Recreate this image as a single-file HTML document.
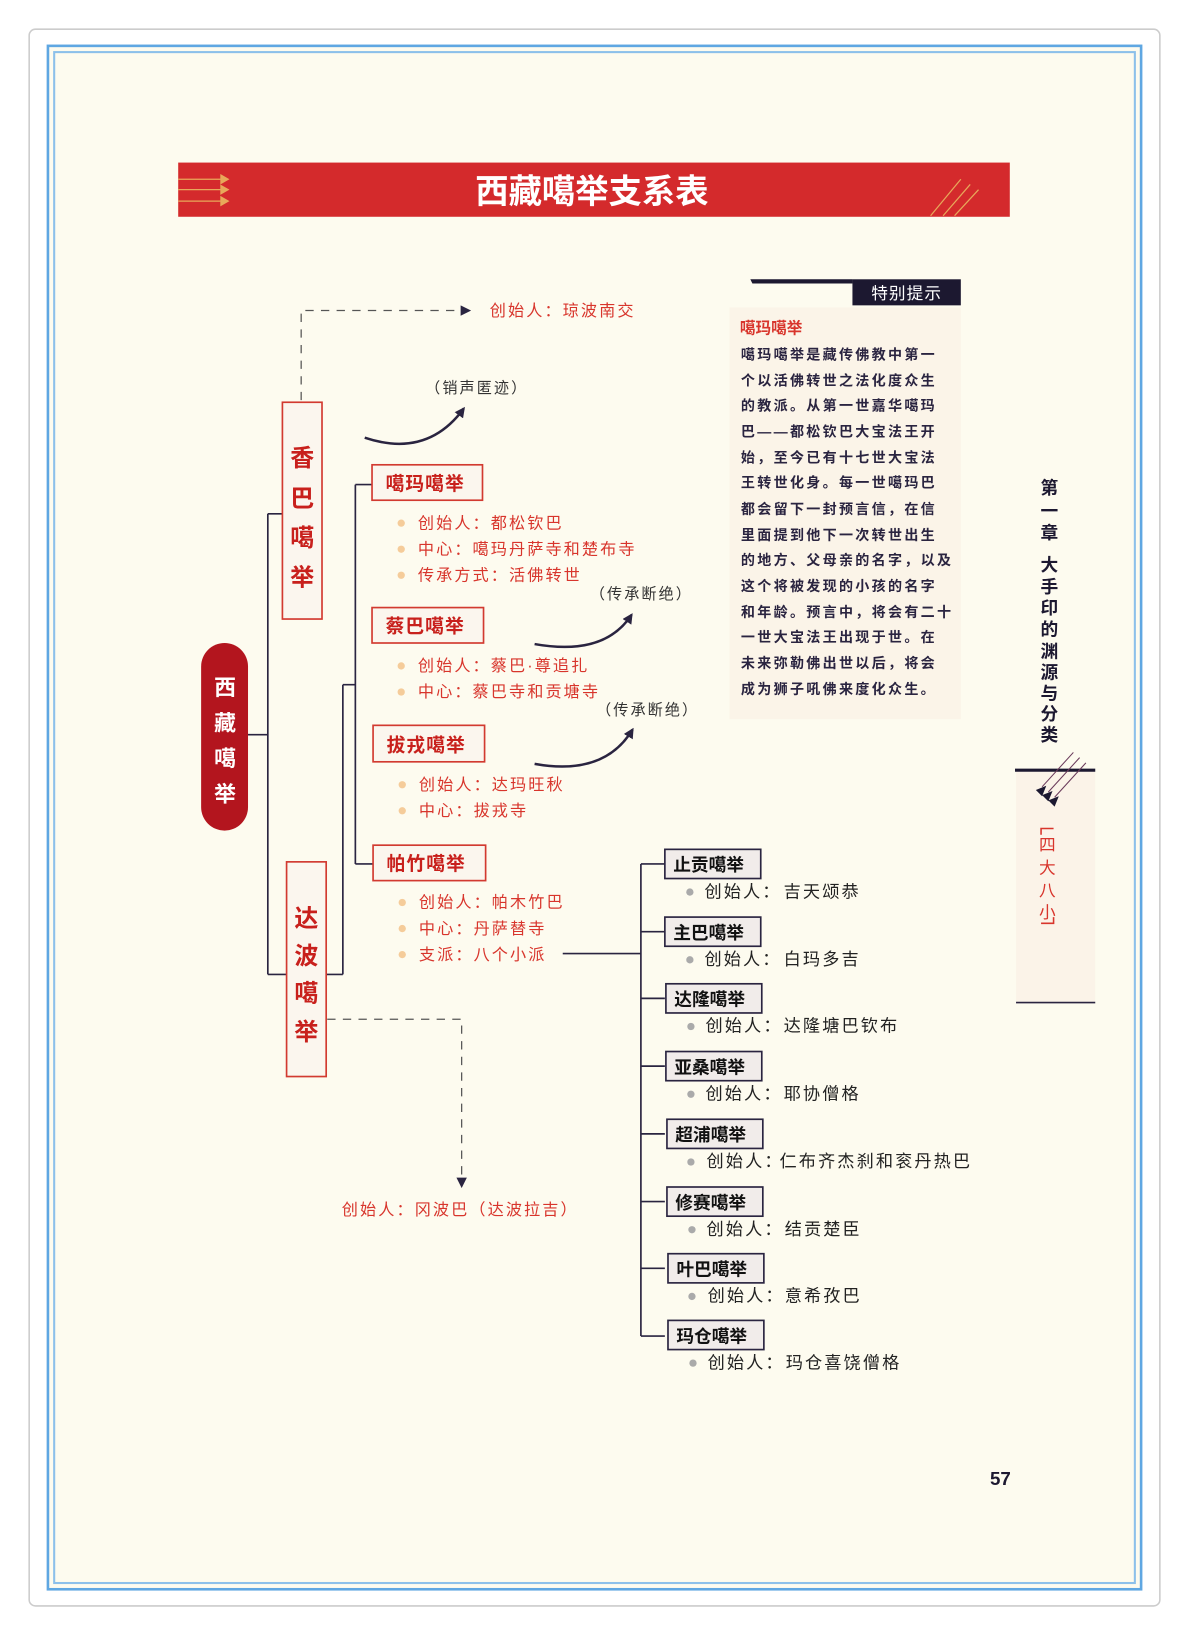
<!DOCTYPE html>
<html><head><meta charset="utf-8"><style>
html,body{margin:0;padding:0;background:#fff;}
svg{display:block;}
text{font-family:"Liberation Sans","Noto Sans CJK SC",sans-serif;}
.r{fill:#d8352c;font-size:15.5px;letter-spacing:2px;}
.bx{fill:#fbf6ee;stroke:#d23a30;stroke-width:1.6;}
.bt{fill:#c8201c;font-size:18px;font-weight:bold;letter-spacing:1px;}
.gb{fill:#f1ecea;stroke:#2a2440;stroke-width:1.6;}
.gt{fill:#111;font-size:17px;font-weight:bold;}
.ft{fill:#222;font-size:16.5px;letter-spacing:2px;}
.ln{stroke:#2a2440;stroke-width:1.6;fill:none;}
.tx{fill:#2a2440;font-size:13.5px;letter-spacing:2.2px;font-weight:bold;}
</style></head><body>
<svg width="1188" height="1632" viewBox="0 0 1140 1566" preserveAspectRatio="none">
<defs>
<marker id="ah" markerWidth="10" markerHeight="10" refX="8" refY="5" orient="auto" markerUnits="userSpaceOnUse"><path d="M0,0 L10,5 L0,10 z" fill="#2a2440"/></marker>
</defs>
<rect x="0" y="0" width="1140" height="1566" fill="#fff"/>
<rect x="28" y="28" width="1085" height="1513" rx="6" fill="#fff" stroke="#ccc" stroke-width="1.5"/>
<rect x="46" y="44" width="1049" height="1481" fill="#fdfbef" stroke="#5fa7e2" stroke-width="2.5"/>
<rect x="52" y="50" width="1037" height="1469" fill="none" stroke="#8cc0ea" stroke-width="2"/>

<!-- banner -->
<rect x="171" y="156" width="798" height="52" fill="#d42a2c"/>
<text x="568" y="195" text-anchor="middle" fill="#fff" font-size="32" font-weight="bold">西藏噶举支系表</text>
<g stroke="#e8a85a" stroke-width="1.2" fill="#e8a85a">
<line x1="171" y1="172" x2="215" y2="172"/><line x1="171" y1="182" x2="215" y2="182"/><line x1="171" y1="193" x2="215" y2="193"/>
<path d="M212,168 l7,4 l-7,4z M212,178 l7,4 l-7,4z M212,189 l7,4 l-7,4z"/>
<line x1="893" y1="207" x2="922" y2="172"/><line x1="905" y1="207" x2="931" y2="177"/><line x1="916" y1="207" x2="939" y2="182"/>
</g>

<!-- tip box -->
<rect x="700" y="295" width="222" height="395" fill="#faf1e6" opacity="0.7"/>
<path d="M720,268 L818,268 L818,272 L722,272z" fill="#1c1830"/>
<rect x="818" y="268" width="104" height="25" fill="#1c1830"/>
<text x="870" y="287" text-anchor="middle" fill="#fff" font-size="16" letter-spacing="1">特别提示</text>
<text x="710" y="320" fill="#d8352c" font-size="15" font-weight="bold">噶玛噶举</text>
<g class="tx">
<text x="711" y="345">噶玛噶举是藏传佛教中第一</text>
<text x="711" y="370">个以活佛转世之法化度众生</text>
<text x="711" y="394">的教派。从第一世嘉华噶玛</text>
<text x="711" y="419">巴——都松钦巴大宝法王开</text>
<text x="711" y="444">始，至今已有十七世大宝法</text>
<text x="711" y="468">王转世化身。每一世噶玛巴</text>
<text x="711" y="493">都会留下一封预言信，在信</text>
<text x="711" y="518">里面提到他下一次转世出生</text>
<text x="711" y="542">的地方、父母亲的名字，以及</text>
<text x="711" y="567">这个将被发现的小孩的名字</text>
<text x="711" y="592">和年龄。预言中，将会有二十</text>
<text x="711" y="616">一世大宝法王出现于世。在</text>
<text x="711" y="641">未来弥勒佛出世以后，将会</text>
<text x="711" y="666">成为狮子吼佛来度化众生。</text>
</g>

<!-- side chapter -->
<g fill="#1c1830" font-size="17" font-weight="bold" text-anchor="middle">
<text x="1007" y="474">第</text><text x="1007" y="496">一</text><text x="1007" y="517">章</text>
<text x="1007" y="548">大</text><text x="1007" y="569">手</text><text x="1007" y="589">印</text><text x="1007" y="610">的</text><text x="1007" y="631">渊</text><text x="1007" y="651">源</text><text x="1007" y="671">与</text><text x="1007" y="691">分</text><text x="1007" y="711">类</text>
</g>
<rect x="975" y="740" width="76" height="222" fill="#faf1e6" opacity="0.8"/>
<line x1="974" y1="739" x2="1051" y2="739" stroke="#1c1830" stroke-width="3"/>
<line x1="975" y1="962" x2="1051" y2="962" stroke="#2a2440" stroke-width="1.5"/>
<g stroke="#6a3a5a" stroke-width="1"><line x1="1030" y1="722" x2="1000" y2="755"/><line x1="1036" y1="727" x2="1006" y2="760"/><line x1="1042" y1="732" x2="1012" y2="765"/></g>
<path d="M994,758 l10,-4 l-4,10z M1000,763 l10,-4 l-4,10z M1006,768 l10,-4 l-4,10z" fill="#1c1830"/>
<path d="M999,801 V795 H1011 M999,886 H1011 V880" fill="none" stroke="#d8352c" stroke-width="1.5"/>
<g fill="#d8352c" font-size="16" text-anchor="middle">
<text x="1005" y="816">四</text><text x="1005" y="838">大</text><text x="1005" y="860">八</text><text x="1005" y="881">小</text>
</g>

<!-- tree lines -->
<path class="ln" d="M238,705 H257 M257,493 V935 M257,493 H271 M257,935 H275 M312,935 H329 M329,657 V935 M329,657 H341 M341,465 V829 M341,465 H357 M341,829 H358"/>
<path class="ln" d="M540,915 H615 M615,829 V1282 M615,829 H638 M615,894 H638 M615,958 H638 M615,1023 H638 M615,1088 H638 M615,1153 H638 M615,1217 H638 M615,1282 H638"/>

<!-- root pill -->
<rect x="193" y="617" width="45" height="180" rx="22.5" fill="#b3151e"/>
<g fill="#fff" font-size="21" font-weight="bold" text-anchor="middle">
<text x="216" y="667">西</text><text x="216" y="701">藏</text><text x="216" y="735">噶</text><text x="216" y="769">举</text>
</g>

<!-- 香巴 / 达波 -->
<rect class="bx" x="271" y="386" width="38" height="208"/>
<g fill="#c8201c" font-size="23" font-weight="bold" text-anchor="middle">
<text x="290" y="447">香</text><text x="290" y="486">巴</text><text x="290" y="524">噶</text><text x="290" y="562">举</text>
</g>
<rect class="bx" x="275" y="827" width="38" height="206"/>
<g fill="#c8201c" font-size="23" font-weight="bold" text-anchor="middle">
<text x="294" y="889">达</text><text x="294" y="925">波</text><text x="294" y="961">噶</text><text x="294" y="998">举</text>
</g>

<!-- dashed -->
<path d="M289,384 V298 H450" fill="none" stroke="#555" stroke-width="1.2" stroke-dasharray="8,7" marker-end="url(#ah)"/>
<text class="r" x="470" y="303">创始人：琼波南交</text>
<path d="M314,978 H443 V1138" fill="none" stroke="#555" stroke-width="1.2" stroke-dasharray="8,7" marker-end="url(#ah)"/>
<text class="r" x="328" y="1166">创始人：冈波巴（达波拉吉）</text>

<!-- curves -->
<g fill="none" stroke="#2a2440" stroke-width="2.4">
<path d="M350,420 Q410,440 445,392" marker-end="url(#ah)"/>
<path d="M513,618 Q580,630 606,590" marker-end="url(#ah)"/>
<path d="M513,733 Q580,745 607,700" marker-end="url(#ah)"/>
</g>
<g fill="#333" font-size="14.5" letter-spacing="2">
<text x="408" y="377">（销声匿迹）</text>
<text x="566" y="575">（传承断绝）</text>
<text x="572" y="686">（传承断绝）</text>
</g>

<!-- red boxes -->
<rect class="bx" x="357" y="446" width="106" height="34"/><text class="bt" x="370" y="470">噶玛噶举</text>
<rect class="bx" x="357" y="583" width="107" height="34"/><text class="bt" x="370" y="607">蔡巴噶举</text>
<rect class="bx" x="358" y="696" width="107" height="35"/><text class="bt" x="371" y="721">拔戎噶举</text>
<rect class="bx" x="358" y="811" width="108" height="34"/><text class="bt" x="371" y="835">帕竹噶举</text>

<g fill="#f5cc9a">
<circle cx="385" cy="502" r="3.5"/><circle cx="385" cy="527" r="3.5"/><circle cx="385" cy="552" r="3.5"/>
<circle cx="385" cy="639" r="3.5"/><circle cx="385" cy="664" r="3.5"/>
<circle cx="386" cy="753" r="3.5"/><circle cx="386" cy="778" r="3.5"/>
<circle cx="386" cy="866" r="3.5"/><circle cx="386" cy="891" r="3.5"/><circle cx="386" cy="916" r="3.5"/>
</g>
<g class="r">
<text x="401" y="507">创始人：都松钦巴</text>
<text x="401" y="532">中心：噶玛丹萨寺和楚布寺</text>
<text x="401" y="557">传承方式：活佛转世</text>
<text x="401" y="644">创始人：蔡巴·尊追扎</text>
<text x="401" y="669">中心：蔡巴寺和贡塘寺</text>
<text x="402" y="758">创始人：达玛旺秋</text>
<text x="402" y="783">中心：拔戎寺</text>
<text x="402" y="871">创始人：帕木竹巴</text>
<text x="402" y="896">中心：丹萨替寺</text>
<text x="402" y="921">支派：八个小派</text>
</g>

<!-- 8 sub schools -->
<g>
<rect class="gb" x="638" y="815" width="92" height="28"/><text class="gt" x="646" y="836">止贡噶举</text>
<rect class="gb" x="638" y="880" width="92" height="28"/><text class="gt" x="646" y="901">主巴噶举</text>
<rect class="gb" x="639" y="944" width="92" height="28"/><text class="gt" x="647" y="965">达隆噶举</text>
<rect class="gb" x="639" y="1009" width="92" height="28"/><text class="gt" x="647" y="1030">亚桑噶举</text>
<rect class="gb" x="640" y="1074" width="92" height="28"/><text class="gt" x="648" y="1095">超浦噶举</text>
<rect class="gb" x="640" y="1139" width="92" height="28"/><text class="gt" x="648" y="1160">修赛噶举</text>
<rect class="gb" x="641" y="1203" width="92" height="28"/><text class="gt" x="649" y="1224">叶巴噶举</text>
<rect class="gb" x="641" y="1267" width="92" height="28"/><text class="gt" x="649" y="1288">玛仓噶举</text>
</g>
<g fill="#aaa">
<circle cx="662" cy="856" r="3.5"/><circle cx="662" cy="921" r="3.5"/><circle cx="663" cy="985" r="3.5"/><circle cx="663" cy="1050" r="3.5"/>
<circle cx="663" cy="1115" r="3.5"/><circle cx="664" cy="1180" r="3.5"/><circle cx="664" cy="1244" r="3.5"/><circle cx="665" cy="1308" r="3.5"/>
</g>
<g class="ft">
<text x="676" y="861">创始人：<tspan x="752">吉天颂恭</tspan></text>
<text x="676" y="926">创始人：<tspan x="752">白玛多吉</tspan></text>
<text x="677" y="990">创始人：<tspan x="752">达隆塘巴钦布</tspan></text>
<text x="677" y="1055">创始人：<tspan x="752">耶协僧格</tspan></text>
<text x="678" y="1120">创始人：<tspan x="748">仁布齐杰刹和衮丹热巴</tspan></text>
<text x="678" y="1185">创始人：<tspan x="753">结贡楚臣</tspan></text>
<text x="679" y="1249">创始人：<tspan x="753">意希孜巴</tspan></text>
<text x="679" y="1313">创始人：<tspan x="754">玛仓喜饶僧格</tspan></text>
</g>

<text x="960" y="1425" text-anchor="middle" fill="#1c1830" font-size="18" font-family="Liberation Serif,serif" font-weight="bold">57</text>
</svg>
</body></html>
